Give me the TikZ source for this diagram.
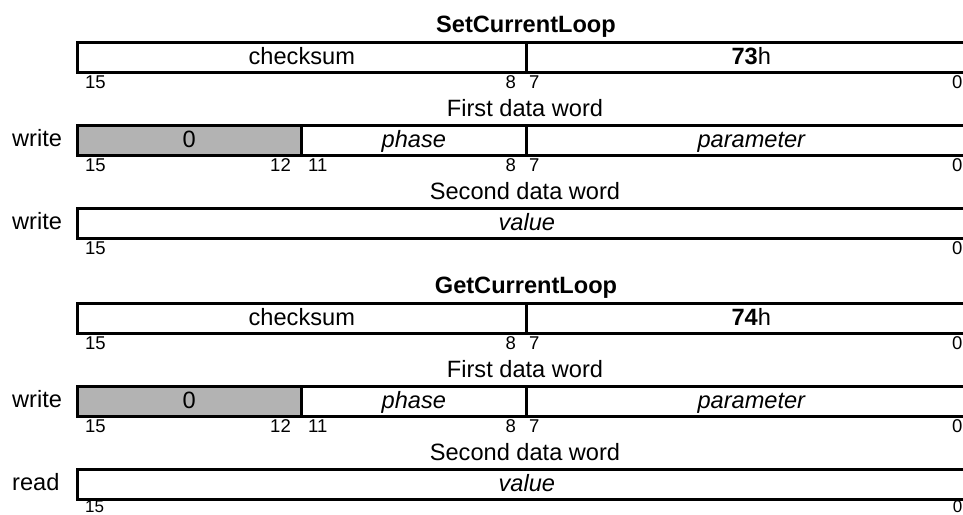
\documentclass[tikz,border=0pt]{standalone}
\usepackage{fontspec}
\setmainfont{Liberation Sans}
\newcommand{\mainsz}{\fontsize{23.6pt}{28pt}\selectfont}
\newcommand{\bitsz}{\fontsize{18.5pt}{22pt}\selectfont}
\newcommand{\lastbitsz}{\fontsize{17pt}{20pt}\selectfont}
\definecolor{zerogray}{RGB}{179,179,179}
\tikzset{
  fieldbox/.style={draw, line width=2.6pt, minimum height=30pt, inner sep=0pt,
    text height=18pt, text depth=4pt, font=\mainsz, anchor=north west},
  grayfield/.style={fieldbox, fill=zerogray},
  bitlbl/.style={inner sep=0pt, font=\bitsz},
  lastbit/.style={inner sep=0pt, font=\lastbitsz},
  heading/.style={inner sep=0pt, font=\mainsz\bfseries, anchor=base},
  caption/.style={inner sep=0pt, font=\mainsz, anchor=base},
  side/.style={inner sep=0pt, font=\mainsz, anchor=base west}
}
\begin{document}
\begin{tikzpicture}[x=1pt,y=-1pt]
\useasboundingbox (0,0) rectangle (963,514);
% ---------------- SetCurrentLoop ----------------
\node[heading] (t1) at (526,32) {SetCurrentLoop};
\node[fieldbox, minimum width=449pt] (a1) at (76,41) {checksum};
\node[fieldbox, minimum width=450pt] (a2) at (525,41) {\textbf{73}h};
\node[bitlbl, anchor=base west] (a15) at (85,88) {15};
\node[bitlbl, anchor=base east] (a8) at (516,88) {8};
\node[bitlbl, anchor=base west] (a7) at (529,88) {7};
\node[bitlbl, anchor=base east] (a0) at (962.5,88) {0};
\node[caption] (c1) at (525,116) {First data word};
\node[side] (w1) at (12,146) {write};
\node[fieldbox, minimum width=225pt] (b2) at (300,124) {\itshape phase};
\node[fieldbox, minimum width=450pt] (b3) at (525,124) {\itshape parameter};
\node[grayfield, minimum width=224pt] (b1) at (76,124) {0};
\node[bitlbl, anchor=base west] (b15) at (85,171) {15};
\node[bitlbl, anchor=base east] (b12) at (291,171) {12};
\node[bitlbl, anchor=base west] (b11) at (308,171) {11};
\node[bitlbl, anchor=base east] (b8) at (516,171) {8};
\node[bitlbl, anchor=base west] (b7) at (529,171) {7};
\node[bitlbl, anchor=base east] (b0) at (962.5,171) {0};
\node[caption] (c2) at (525,199) {Second data word};
\node[side] (w2) at (12,229) {write};
\node[fieldbox, minimum width=899pt] (v1) at (76,207) {\itshape value};
\node[bitlbl, anchor=base west] (v15) at (85,254) {15};
\node[bitlbl, anchor=base east] (v0) at (962.5,254) {0};
% ---------------- GetCurrentLoop ----------------
\node[heading] (t2) at (526,293) {GetCurrentLoop};
\node[fieldbox, minimum width=449pt] (d1) at (76,302) {checksum};
\node[fieldbox, minimum width=450pt] (d2) at (525,302) {\textbf{74}h};
\node[bitlbl, anchor=base west] (d15) at (85,349) {15};
\node[bitlbl, anchor=base east] (d8) at (516,349) {8};
\node[bitlbl, anchor=base west] (d7) at (529,349) {7};
\node[bitlbl, anchor=base east] (d0) at (962.5,349) {0};
\node[caption] (c3) at (525,377) {First data word};
\node[side] (w3) at (12,407) {write};
\node[fieldbox, minimum width=225pt] (e2) at (300,385) {\itshape phase};
\node[fieldbox, minimum width=450pt] (e3) at (525,385) {\itshape parameter};
\node[grayfield, minimum width=224pt] (e1) at (76,385) {0};
\node[bitlbl, anchor=base west] (e15) at (85,432) {15};
\node[bitlbl, anchor=base east] (e12) at (291,432) {12};
\node[bitlbl, anchor=base west] (e11) at (308,432) {11};
\node[bitlbl, anchor=base east] (e8) at (516,432) {8};
\node[bitlbl, anchor=base west] (e7) at (529,432) {7};
\node[bitlbl, anchor=base east] (e0) at (962.5,432) {0};
\node[caption] (c4) at (525,460) {Second data word};
\node[side] (r1) at (12,490) {read};
\node[fieldbox, minimum width=899pt] (f1) at (76,468) {\itshape value};
\node[lastbit, anchor=base west] (f15) at (85,512.6) {15};
\node[lastbit, anchor=base east] (f0) at (962.5,512.6) {0};
\end{tikzpicture}
\end{document}
